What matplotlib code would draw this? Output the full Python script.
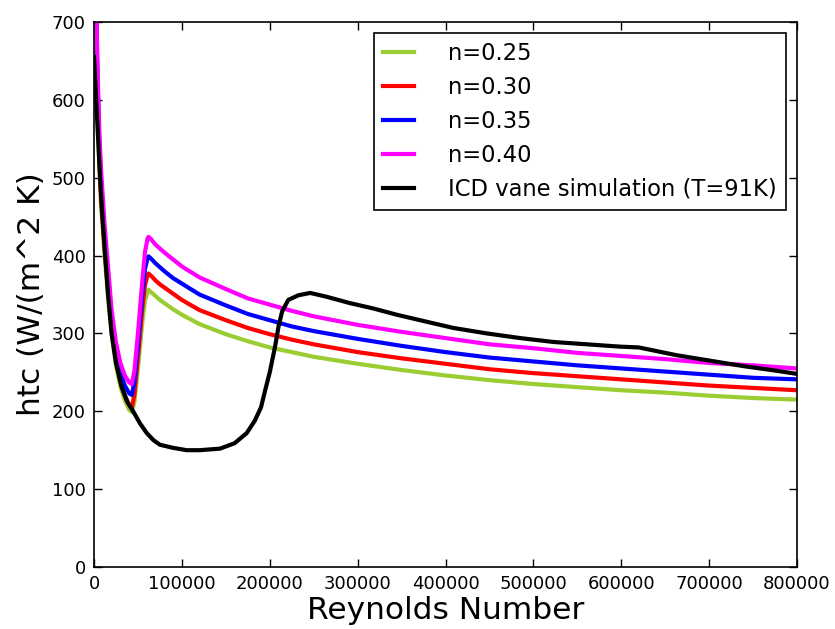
import numpy as np
import matplotlib
matplotlib.use("Agg")
import matplotlib.pyplot as plt

# Reynolds numbers for the correlation curves
re_model = [2000, 4000, 6000, 8000, 12000, 16000, 20000, 25000, 30000, 35000,
            40000, 43000, 46000, 50000, 55000, 58000, 61000,
            62000, 65000, 70000, 75000, 80000, 90000, 100000, 120000, 150000,
            175000, 200000, 225000, 250000, 300000, 350000, 400000, 450000,
            500000, 550000, 600000, 650000, 700000, 750000, 800000]

# htc for the different exponents n
htc_025 = [720, 600, 520, 465, 400, 345, 300, 258, 232, 214, 202, 199, 212,
           255, 315, 342, 354,
           356, 353, 348, 343, 339, 331, 324, 312, 299, 290, 282, 276, 270,
           261, 253, 246, 240, 235, 231, 227, 224, 220, 217, 215]
htc_030 = [730, 610, 530, 475, 410, 355, 308, 266, 238, 220, 208, 204, 222,
           270, 333, 362, 375,
           377, 374, 368, 363, 359, 351, 343, 330, 317, 307, 299, 292, 286,
           276, 268, 261, 254, 249, 245, 241, 237, 233, 230, 227]
htc_035 = [740, 625, 545, 495, 425, 370, 318, 276, 250, 233, 223, 221, 238,
           285, 350, 383, 397,
           399, 396, 390, 385, 380, 371, 364, 350, 336, 325, 317, 309, 303,
           293, 284, 276, 269, 264, 259, 255, 251, 247, 243, 241]
htc_040 = [760, 640, 560, 510, 440, 385, 330, 288, 262, 246, 237, 235, 252,
           300, 368, 405, 422,
           424, 421, 414, 409, 404, 395, 386, 372, 357, 345, 337, 329, 322,
           311, 302, 294, 286, 281, 275, 271, 267, 262, 259, 255]

# ICD vane simulation at T=91K
re_sim = [0, 2000, 4000, 6800, 9000, 12500, 16000, 20000, 25000, 31500, 38000,
          44500, 52000, 60000, 67500, 75000, 90000, 105500, 120000, 143400,
          160000, 173800, 183000, 190000, 195000, 200000, 206000, 210000,
          214000, 221000, 232500, 246000, 265000, 291000, 318000, 344500,
          371000, 409000, 447000, 485000, 523000, 561000, 599000, 620000,
          663000, 701000, 739000, 777000, 800000]
htc_sim = [655, 610, 565, 501, 460, 403, 350, 300, 262, 231, 212, 200, 185,
           172, 163, 157, 153, 150, 150, 152, 159, 172, 188, 205, 228, 250,
           283, 309, 328, 343, 349, 352, 347, 339, 332, 324, 317, 307, 300,
           294, 289, 286, 283, 282, 272, 265, 258, 252, 248]

labels = ["n=0.25", "n=0.30", "n=0.35", "n=0.40", "ICD vane simulation (T=91K)"]
colors = ["#9acd32", "#ff0000", "#0000ff", "#ff00ff", "#000000"]

fig = plt.figure(figsize=(8.35, 6.29), dpi=100)
ax = fig.add_axes([0.1126, 0.0986, 0.8419, 0.8664])

for htc, lab, col in zip([htc_025, htc_030, htc_035, htc_040], labels[:4], colors[:4]):
    ax.plot(re_model, htc, color=col, linewidth=3, label=lab)
ax.plot(re_sim, htc_sim, color=colors[4], linewidth=3, label=labels[4])

ax.set_xlim(0, 800000)
ax.set_ylim(0, 700)
ax.set_xticks(np.arange(0, 800001, 100000))
ax.set_yticks(np.arange(0, 701, 100))
ax.ticklabel_format(style="plain", useOffset=False)
ax.tick_params(direction="in", top=True, right=True, length=6, width=1,
               labelsize=13, pad=6)
for s in ax.spines.values():
    s.set_linewidth(1.2)

ax.set_xlabel("Reynolds Number", fontsize=22.5, labelpad=2)
ax.set_ylabel("htc (W/(m^2 K)", fontsize=22.5)

leg = ax.legend(loc="upper right", fontsize=16.3, fancybox=False, framealpha=1,
                edgecolor="black", handlelength=1.4, handletextpad=1.48,
                labelspacing=0.48, borderpad=0.4, borderaxespad=0.5)
leg.get_frame().set_linewidth(1.2)

fig.savefig("out.png", dpi=100)
